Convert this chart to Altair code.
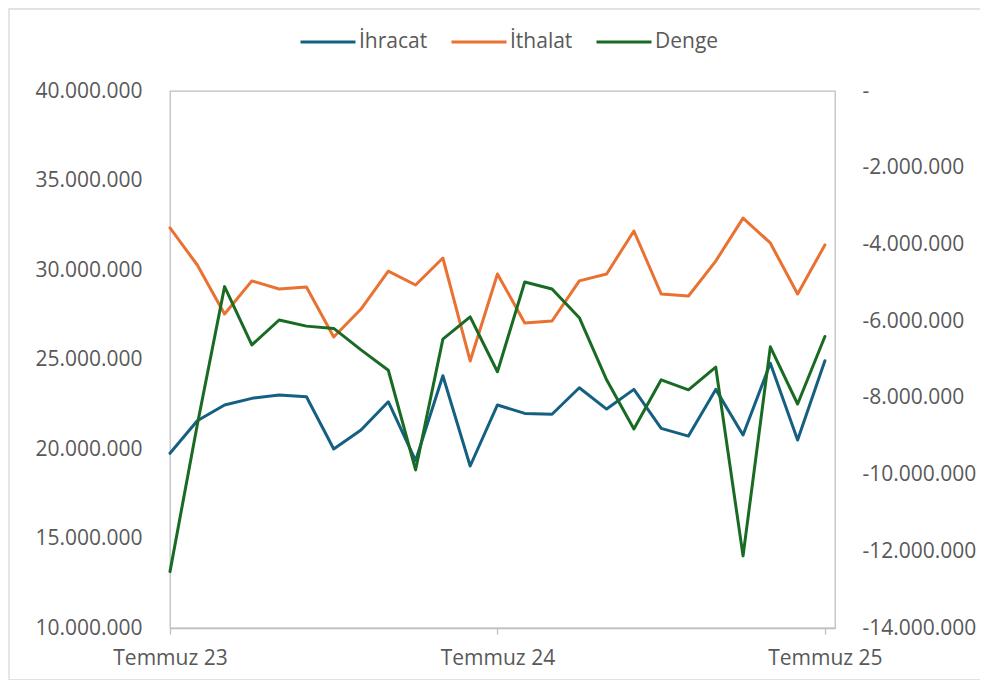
import altair as alt
import pandas as pd

# ---- data ----
months = list(range(25))  # 0 = Temmuz 23 ... 24 = Temmuz 25
x_tick_values = [0, 12, 24]
x_tick_labels = ["Temmuz 23", "Temmuz 24", "Temmuz 25"]

ihracat = [19760000, 21580000, 22460000, 22830000, 23020000, 22920000, 20000000,
           21060000, 22640000, 19350000, 24090000, 19050000, 22460000, 21990000,
           21940000, 23420000, 22230000, 23330000, 21150000, 20720000, 23330000,
           20780000, 24790000, 20500000, 24930000]
ithalat = [32350000, 30280000, 27540000, 29390000, 28940000, 29050000, 26260000,
           27820000, 29940000, 29160000, 30670000, 24920000, 29780000, 27040000,
           27150000, 29390000, 29780000, 32180000, 28660000, 28550000, 30500000,
           32900000, 31510000, 28660000, 31400000]
denge = [-12530000, -8700000, -5100000, -6620000, -5970000, -6130000, -6190000,
         -6750000, -7280000, -9880000, -6470000, -5890000, -7320000, -4980000,
         -5160000, -5910000, -7530000, -8810000, -7530000, -7790000, -7200000,
         -12120000, -6670000, -8160000, -6400000]

series_names = ["İhracat", "İthalat", "Denge"]
series_colors = ["#156082", "#E97132", "#196B24"]
left_ticks = [10000000, 15000000, 20000000, 25000000, 30000000, 35000000, 40000000]
right_ticks = [-14000000, -12000000, -10000000, -8000000, -6000000, -4000000, -2000000, 0]

rows = []
for name, vals in zip(series_names, [ihracat, ithalat, denge]):
    for m, v in zip(months, vals):
        rows.append({"ay": m, "deger": v, "seri": name})
df = pd.DataFrame(rows)

FONT = "Open Sans"
LABEL_COLOR = "#595959"
GRID_GRAY = "#BFBFBF"

x_expr = " : ".join(
    [f"datum.value == {v} ? '{l}'" for v, l in zip(x_tick_values[:-1], x_tick_labels[:-1])]
) + f" : '{x_tick_labels[-1]}'"

x_enc = alt.X(
    "ay:Q",
    scale=alt.Scale(domain=[0, 24.37], nice=False, zero=False),
    axis=alt.Axis(
        values=x_tick_values, labelExpr=x_expr, title=None, grid=False,
        domain=True, domainColor=GRID_GRAY, domainWidth=1.3,
        ticks=True, tickSize=6, tickColor=GRID_GRAY, tickWidth=1.3,
        labelPadding=13, labelFlush=False, labelOverlap=False,
    ),
)

color_enc = alt.Color(
    "seri:N",
    scale=alt.Scale(domain=series_names, range=series_colors),
    legend=alt.Legend(
        title=None, orient="none", direction="horizontal",
        legendX=129, legendY=-78,
        symbolType="stroke", symbolSize=3025, symbolStrokeWidth=3,
        labelFontSize=21, labelFont=FONT, labelColor=LABEL_COLOR,
        labelOffset=2, columnPadding=17,
    ),
)

line_kw = dict(strokeWidth=3, strokeJoin="round", strokeCap="round")

left = alt.Chart(df).transform_filter(
    alt.FieldOneOfPredicate(field="seri", oneOf=["İhracat", "İthalat"])
).mark_line(**line_kw).encode(
    x=x_enc,
    y=alt.Y(
        "deger:Q",
        scale=alt.Scale(domain=[10000000, 40000000], nice=False, zero=False),
        axis=alt.Axis(
            orient="left", values=left_ticks, title=None, grid=False,
            domain=False, ticks=False, labelPadding=28,
            labelExpr="replace(format(datum.value, ','), regexp(',', 'g'), '.')",
        ),
    ),
    color=color_enc,
)

right = alt.Chart(df).transform_filter(
    alt.FieldEqualPredicate(field="seri", equal="Denge")
).mark_line(**line_kw).encode(
    x=x_enc,
    y=alt.Y(
        "deger:Q",
        scale=alt.Scale(domain=[-14000000, 0], nice=False, zero=False),
        axis=alt.Axis(
            orient="right", values=right_ticks, title=None, grid=False,
            domain=False, ticks=False, labelPadding=27, labelAlign="left",
            labelExpr="datum.value == 0 ? '\u00a0-' : '-' + replace(format(abs(datum.value), ','), regexp(',', 'g'), '.')",
        ),
    ),
    color=color_enc,
)

border = alt.Chart(pd.DataFrame({"k": [0]})).mark_rect(
    fillOpacity=0, stroke="#D9D9D9", strokeWidth=1.3
).encode(
    x=alt.value(-161), x2=alt.value(815), y=alt.value(-82), y2=alt.value(589)
)

chart = alt.layer(border, left, right).resolve_scale(
    y="independent"
).properties(
    width=665, height=537,
    autosize=alt.AutoSizeParams(type="none"),
    padding={"left": 162, "top": 83, "right": 145, "bottom": 52},
).configure_axis(
    labelFont=FONT, labelFontSize=21, labelColor=LABEL_COLOR,
).configure_view(
    stroke=GRID_GRAY, strokeWidth=1.3,
)

chart.save("out.html", embed_options={"renderer": "svg", "actions": False})
